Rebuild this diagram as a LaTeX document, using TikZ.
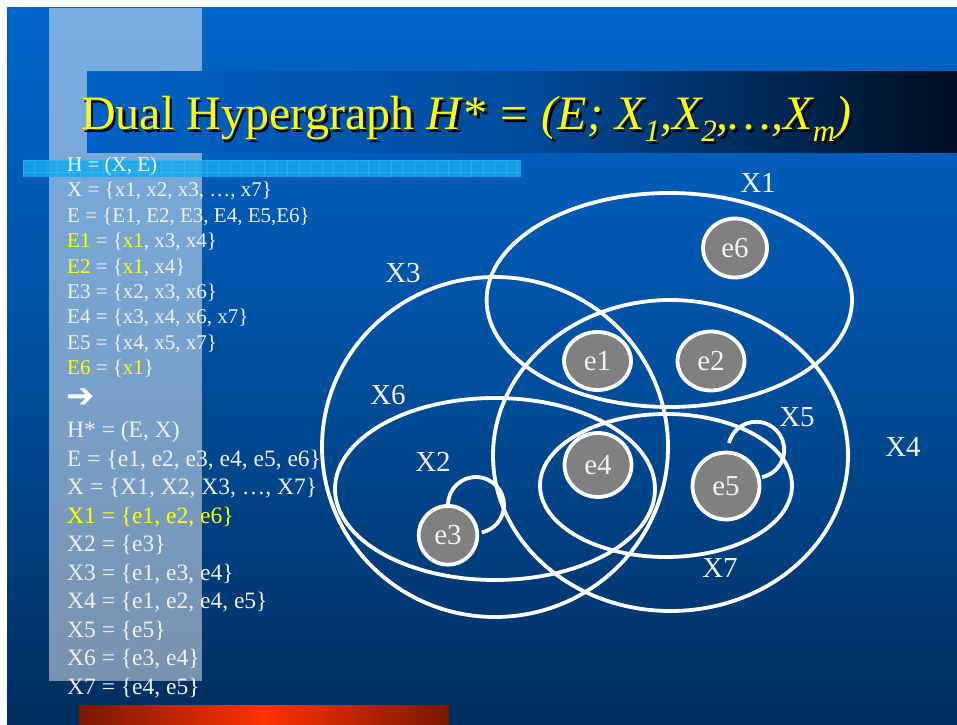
\documentclass[tikz,border=0pt]{standalone}
\usepackage{fontspec}
\setmainfont{Liberation Serif}
\newfontfamily\symfont{DejaVu Sans}
\usetikzlibrary{shapes.geometric}
\definecolor{bgtop}{HTML}{0066CC}
\definecolor{bgmid}{HTML}{004F9E}
\definecolor{bgbot}{HTML}{002E5E}
\definecolor{tbl}{HTML}{0062C6}
\definecolor{tbm}{HTML}{004C9C}
\definecolor{tbr}{HTML}{000E20}
\definecolor{stripc}{HTML}{14AAEE}
\definecolor{gridc}{HTML}{5CD2FF}
\definecolor{brdark}{HTML}{7A1800}
\definecolor{brmid}{HTML}{FF3300}
\definecolor{txtc}{HTML}{F2F2F2}
\definecolor{yel}{HTML}{FFFF00}
\definecolor{nodegray}{HTML}{808080}
\newcommand{\yl}[1]{\textcolor{yel}{#1}}
\newcommand{\tsub}[1]{\raisebox{-12pt}{\fontsize{31}{31}\selectfont #1}}
\newcommand{\titlecontent}{Dual Hypergraph \textit{H* = (E; X\tsub{1},X\tsub{2},…,X\tsub{m})}}
\begin{document}
\begin{tikzpicture}[x=1pt,y=1pt,
  lst/.style={anchor=base west, inner sep=0pt, text=txtc, font=\fontsize{21}{25}\selectfont},
  lstb/.style={lst, font=\fontsize{23.5}{28}\selectfont},
  hyper/.style={draw=white, line width=3.8pt},
  setlab/.style={text=txtc, inner sep=0pt, font=\fontsize{29}{34}\selectfont},
  enode/.style={ellipse, draw=white, fill=nodegray, line width=3.8pt, inner sep=0pt, text=txtc, font=\fontsize{29}{34}\selectfont},
  titletext/.style={anchor=base west, inner sep=0pt, font=\fontsize{48}{56}\selectfont}
]
\useasboundingbox (0,0) rectangle (957,724);
\fill[white] (0,0) rectangle (957,724);
% background
\shade[top color=bgtop, bottom color=bgbot, middle color=bgmid] (7,0) rectangle (957,716);
% light column
\fill[white, opacity=0.47] (49,43) rectangle (202,716);
% cyan strip
\begin{scope}
\clip (23,547) rectangle (521,564);
\fill[stripc, opacity=0.85] (23,547) rectangle (521,564);
\draw[gridc, line width=0.5pt, opacity=0.3, step=11.5] (23,547) grid (521,564);
\end{scope}
% title bar
\shade[left color=tbl, right color=tbr, middle color=tbm] (87,571) rectangle (957,652);
% bottom bar
\shade[left color=brdark, right color=brdark, middle color=brmid] (79,0) rectangle (449,19);
% title with drop shadow in one node
\node[titletext, text=yel] (title) at (81,594) {\makebox[0pt][l]{\hspace*{2.5pt}\raisebox{-2.5pt}{\color{black}\titlecontent}}\titlecontent};

% list group 1
\node[lst] (l1) at (67,552.5) {H = (X, E)};
\node[lst] (l2) at (67,527.1) {X = \{x1, x2, x3, …, x7\}};
\node[lst] (l3) at (67,501.7) {E = \{E1, E2, E3, E4, E5,E6\}};
\node[lst] (l4) at (67,476.3) {\yl{E1} = \{\yl{x1}, x3, x4\}};
\node[lst] (l5) at (67,450.9) {\yl{E2} = \{\yl{x1}, x4\}};
\node[lst] (l6) at (67,425.5) {E3 = \{x2, x3, x6\}};
\node[lst] (l7) at (67,400.1) {E4 = \{x3, x4, x6, x7\}};
\node[lst] (l8) at (67,374.7) {E5 = \{x4, x5, x7\}};
\node[lst] (l9) at (67,349.3) {\yl{E6} = \{\yl{x1}\}};
\node[text=white, inner sep=0pt, font=\symfont\bfseries\fontsize{34}{34}\selectfont] (arr) at (81,326) {➔};
% list group 2
\node[lstb] (m1) at (67,286.3) {H* = (E, X)};
\node[lstb] (m2) at (67,257.8) {E = \{e1, e2, e3, e4, e5, e6\}};
\node[lstb] (m3) at (67,229.3) {X = \{X1, X2, X3, …, X7\}};
\node[lstb, text=yel] (m4) at (67,200.8) {X1 = \{e1, e2, e6\}};
\node[lstb] (m5) at (67,172.3) {X2 = \{e3\}};
\node[lstb] (m6) at (67,143.8) {X3 = \{e1, e3, e4\}};
\node[lstb] (m7) at (67,115.3) {X4 = \{e1, e2, e4, e5\}};
\node[lstb] (m8) at (67,86.8) {X5 = \{e5\}};
\node[lstb] (m9) at (67,58.3) {X6 = \{e3, e4\}};
\node[lstb] (m10) at (67,29.8) {X7 = \{e4, e5\}};

% hyperedges
\draw[hyper] (669.3,424) ellipse [x radius=182.7, y radius=107];
\draw[hyper] (495,277) ellipse [x radius=173, y radius=170];
\draw[hyper] (670.5,268.5) ellipse [x radius=177.5, y radius=155.5];
\draw[hyper] (495,235) ellipse [x radius=160, y radius=91];
\draw[hyper] (666,238.5) ellipse [x radius=126, y radius=71.5];

% vertices
\node[enode, minimum width=64pt, minimum height=59pt] (e6) at (735,476) {e6};
\node[enode, minimum width=67pt, minimum height=59pt] (e2) at (711,363) {e2\hspace{22pt}};
\node[enode, minimum width=67pt, minimum height=58pt] (e1) at (597.5,363) {e1\hspace{15pt}};
\node[enode, minimum width=67pt, minimum height=64pt] (e4) at (598,259) {e4};
\node[enode, minimum width=67pt, minimum height=67pt] (e5) at (726,238) {e5\hspace{6pt}};
\node[enode, minimum width=58.6pt, minimum height=58.7pt] (e3) at (448,188.7) {e3\hspace{12pt}};

% loops
\draw[hyper] (e3.north) arc [start angle=178, end angle=-78, radius=28];
\coordinate (x5s) at (729,281);
\draw[hyper] (x5s) arc [start angle=166, end angle=-78, radius=28];

% set labels
\node[setlab] (lX1) at (758,541) {X1};
\node[setlab] (lX3) at (403,451) {X3};
\node[setlab] (lX6) at (388,329) {X6};
\node[setlab] (lX2) at (433,262) {X2};
\node[setlab] (lX5) at (797,307) {X5};
\node[setlab] (lX7) at (720,156) {X7};
\node[setlab] (lX4) at (903,277) {X4};
\end{tikzpicture}
\end{document}
